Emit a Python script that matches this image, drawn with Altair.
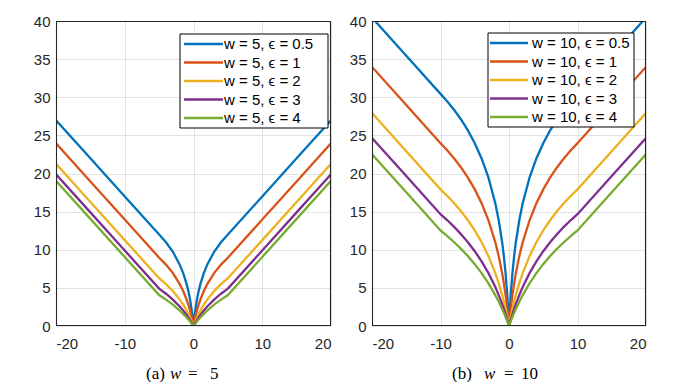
import altair as alt
import pandas as pd

# ---- data (positive half; curves are symmetric about x = 0) ----
X_W5 = [0, 0.05, 0.1, 0.25, 0.5, 0.75, 1, 1.5, 2, 3, 4, 5, 10, 15, 20]
W5_E05 = [0, 0.477, 0.912, 2.027, 3.466, 4.581, 5.493, 6.931, 8.047, 9.730, 10.986, 11.989, 16.99, 21.99, 26.99]
W5_E1 = [0, 0.244, 0.477, 1.116, 2.027, 2.798, 3.466, 4.581, 5.493, 6.931, 8.047, 8.959, 13.96, 18.96, 23.96]
W5_E2 = [0, 0.123, 0.244, 0.589, 1.116, 1.592, 2.027, 2.798, 3.466, 4.581, 5.493, 6.264, 11.26, 16.26, 21.26]
W5_E3 = [0, 0.083, 0.164, 0.400, 0.771, 1.116, 1.438, 2.027, 2.554, 3.466, 4.236, 4.904, 9.90, 14.90, 19.90]
W5_E4 = [0, 0.062, 0.123, 0.303, 0.589, 0.859, 1.116, 1.592, 2.027, 2.798, 3.466, 4.055, 9.05, 14.05, 19.05]

X_W10 = [0, 0.05, 0.1, 0.25, 0.5, 0.75, 1, 1.5, 2, 3, 4, 5, 6, 7, 8, 9, 10, 15, 20]
W10_E05 = [0, 0.953, 1.823, 4.055, 6.931, 9.163, 10.986, 13.863, 16.094, 19.459, 21.972, 23.979, 25.649, 27.081, 28.332, 29.444, 30.445, 35.45, 40.45]
W10_E1 = [0, 0.488, 0.953, 2.231, 4.055, 5.596, 6.931, 9.163, 10.986, 13.863, 16.094, 17.918, 19.459, 20.794, 21.972, 23.026, 23.979, 28.98, 33.98]
W10_E2 = [0, 0.247, 0.488, 1.178, 2.231, 3.185, 4.055, 5.596, 6.931, 9.163, 10.986, 12.528, 13.863, 15.041, 16.094, 17.047, 17.918, 22.92, 27.92]
W10_E3 = [0, 0.165, 0.328, 0.800, 1.542, 2.231, 2.877, 4.055, 5.108, 6.931, 8.473, 9.808, 10.986, 12.040, 12.993, 13.863, 14.663, 19.66, 24.66]
W10_E4 = [0, 0.124, 0.247, 0.606, 1.178, 1.719, 2.231, 3.185, 4.055, 5.596, 6.931, 8.109, 9.163, 10.116, 10.986, 11.787, 12.528, 17.53, 22.53]

EPS = ["0.5", "1", "2", "3", "4"]
COLORS = ["#0072BD", "#D95319", "#EDB120", "#7E2F8E", "#77AC30"]
X_TICKS = [-20, -10, 0, 10, 20]
Y_TICKS = [0, 5, 10, 15, 20, 25, 30, 35, 40]

PLOT_H = 305
FRAME = "#262626"


def mirror(xs, ys):
    return [-v for v in xs[:0:-1]] + list(xs), list(ys[:0:-1]) + list(ys)


def panel(w, xs, series, width, box, sym, text_x, caption):
    labels = [f"w = {w}, \u03f5 = {e}" for e in EPS]
    rows = []
    for lab, ys in zip(labels, series):
        mx, my = mirror(xs, ys)
        rows += [{"series": lab, "x": a, "y": b} for a, b in zip(mx, my)]
    df = pd.DataFrame(rows)

    lines = alt.Chart(df).mark_line(strokeWidth=2.3, clip=True).encode(
        x=alt.X("x:Q", scale=alt.Scale(domain=[-20, 20], nice=False),
                axis=alt.Axis(values=X_TICKS, labelExpr="'' + datum.value",
                              title=None, labelPadding=10)),
        y=alt.Y("y:Q", scale=alt.Scale(domain=[0, 40], nice=False),
                axis=alt.Axis(values=Y_TICKS, title=None, labelPadding=6)),
        color=alt.Color("series:N", scale=alt.Scale(domain=labels, range=COLORS),
                        legend=None, sort=labels),
    )

    one = pd.DataFrame({"k": [0]})
    layers = [lines]
    # plot frame (box on) drawn as four rules
    for (a, b, c, d) in [(0, width, 0.5, 0.5), (0, width, PLOT_H - 0.5, PLOT_H - 0.5),
                         (0.5, 0.5, 0, PLOT_H), (width - 0.5, width - 0.5, 0, PLOT_H)]:
        layers.append(
            alt.Chart(one).mark_rule(strokeWidth=1.1, color=FRAME).encode(
                x=alt.value(a), x2=alt.value(b), y=alt.value(c), y2=alt.value(d))
        )
    bx0, bx1, by0, by1 = box
    layers.append(
        alt.Chart(one).mark_rect(fill="white", stroke="black", strokeWidth=1).encode(
            x=alt.value(bx0), x2=alt.value(bx1), y=alt.value(by0), y2=alt.value(by1))
    )
    for i, (lab, col) in enumerate(zip(labels, COLORS)):
        ry = by0 + 10 + 18.5 * i
        layers.append(
            alt.Chart(one).mark_rule(strokeWidth=2.5, color=col).encode(
                x=alt.value(sym[0]), x2=alt.value(sym[1]), y=alt.value(ry))
        )
        layers.append(
            alt.Chart(pd.DataFrame({"t": [lab]})).mark_text(
                align="left", baseline="middle", font="Liberation Sans",
                fontSize=15, color="black").encode(
                x=alt.value(text_x), y=alt.value(ry), text="t:N")
        )
    for txt, cx, italic in caption:
        layers.append(
            alt.Chart(pd.DataFrame({"t": [txt]})).mark_text(
                align="left", baseline="alphabetic", font="Liberation Serif",
                fontSize=17, fontStyle="italic" if italic else "normal",
                color="black").encode(
                x=alt.value(cx), y=alt.value(PLOT_H + 53), text="t:N")
        )
    return alt.layer(*layers).properties(width=width, height=PLOT_H)


left = panel(5, X_W5, [W5_E05, W5_E1, W5_E2, W5_E3, W5_E4], 275,
             (124, 272, 13, 107), (128, 167), 168,
             [("(a)", 90, False), ("w", 114, True), ("=", 132, False), ("5", 154, False)])
right = panel(10, X_W10, [W10_E05, W10_E1, W10_E2, W10_E3, W10_E4], 274,
              (116, 262, 12, 106), (118, 156), 160,
              [("(b)", 80, False), ("w", 112, True), ("=", 132, False), ("10", 149, False)])

chart = alt.hconcat(left, right, spacing=17).properties(
    padding={"left": 25, "top": 6, "right": 5, "bottom": 0},
    background="white",
).configure_view(
    stroke=None
).configure_axis(
    grid=True, gridColor="#e2e2e2", gridWidth=1, domain=False, tickSize=0,
    labelFont="Liberation Sans", labelFontSize=15, labelColor="#262626",
)

chart.save("out.html", embed_options={"renderer": "svg", "actions": False})
